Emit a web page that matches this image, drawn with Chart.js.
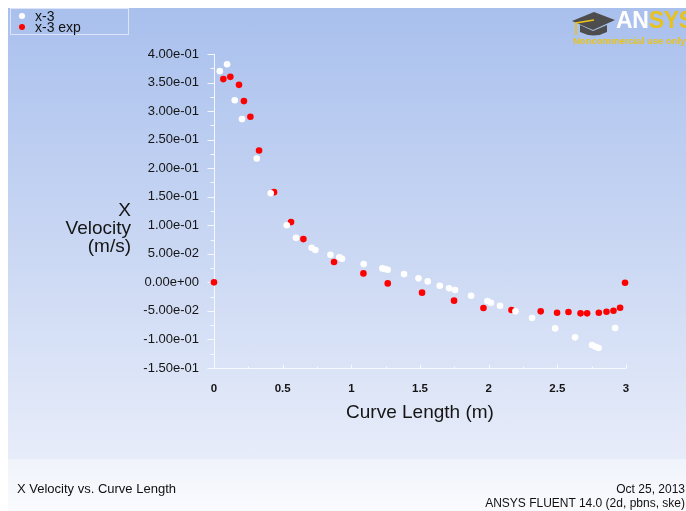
<!DOCTYPE html>
<html>
<head>
<meta charset="utf-8">
<script src="https://cdn.jsdelivr.net/npm/chart.js@4/dist/chart.umd.min.js"></script>
<style>
  html, body { margin: 0; padding: 0; background: #ffffff; }
  #wrap { position: relative; width: 686px; height: 511px; overflow: hidden; background: #ffffff; font-family: "Liberation Sans", Arial, sans-serif; }
  #panel { position: absolute; left: 8px; top: 8px; width: 678px; height: 451px;
           background: linear-gradient(to bottom, rgb(169,192,237) 0%, rgb(231,236,249) 100%); }
  #foot { position: absolute; left: 8px; top: 459px; width: 678px; height: 52px;
          background: linear-gradient(to bottom, rgb(240,243,251) 0%, rgb(250,251,254) 100%); }
  #c { position: absolute; left: 0; top: 0; }
  #legend { position: absolute; left: 10px; top: 8px; width: 117px; height: 25px; border: 1px solid rgba(225,232,250,0.9);
            font-size: 14px; color: #111; }
  .li { position: absolute; left: 0; height: 12px; line-height: 12px; }
  .dot { position: absolute; left: 8px; top: 3px; width: 6px; height: 6px; border-radius: 50%; }
  .lt { position: absolute; left: 24px; top: 0; white-space: nowrap; }
  #logo { position: absolute; left: 570px; top: 9px; width: 130px; height: 40px; }
  #ansys { position: absolute; left: 46px; top: -3px; font-size: 23px; font-weight: bold; letter-spacing: -0.3px; white-space: nowrap; line-height: 28px; }
  #nc { position: absolute; left: 3px; top: 27px; font-family: "Liberation Sans", Arial, sans-serif; font-size: 9.5px; line-height: 10px; font-weight: bold; color: #e8c21c; white-space: nowrap; }
  .ft { position: absolute; font-size: 12px; color: #111; white-space: nowrap; line-height: 14px; }
</style>
</head>
<body>
<div id="wrap">
  <div id="panel"></div>
  <div id="foot"></div>
  <canvas id="c" width="686" height="511"></canvas>
  <div id="legend">
    <div class="li" style="top:1px"><span class="dot" style="background:#ffffff"></span><span class="lt">x-3</span></div>
    <div class="li" style="top:12px"><span class="dot" style="background:#ff0000"></span><span class="lt">x-3 exp</span></div>
  </div>
  <div id="logo">
    <svg width="46" height="30" style="position:absolute;left:0;top:2px">
      <polygon points="2,10 24,1 45,9 23,19" fill="#4d4d4d"/>
      <path d="M10,14 L10,21 Q24,28 37,21 L37,14 L23,20 Z" fill="#4d4d4d"/>
      <path d="M24,9 L6,12 L6,24" stroke="#e8c21c" stroke-width="1.6" fill="none"/>
    </svg>
    <div id="ansys"><span style="color:#ffffff">AN</span><span style="color:#e8c21c">SYS</span></div>
    <div id="nc">Noncommercial use only</div>
  </div>
  <div class="ft" style="left:17px; top:482px; font-size:13px;">X Velocity vs. Curve Length</div>
  <div class="ft" style="right:1px; top:482px;">Oct 25, 2013</div>
  <div class="ft" style="right:1px; top:496px;">ANSYS FLUENT 14.0 (2d, pbns, ske)</div>
</div>
<script>
// ---- data ----
const seriesNames = ['x-3', 'x-3 exp'];
const simX = [0.042,0.095,0.151,0.204,0.311,0.413,0.530,0.597,0.711,0.738,0.848,0.913,0.932,1.090,1.226,1.245,1.265,1.384,1.489,1.556,1.644,1.712,1.755,1.872,1.991,2.017,2.083,2.195,2.316,2.484,2.629,2.753,2.778,2.800,2.921];
const simY = [0.370,0.382,0.319,0.286,0.217,0.156,0.100,0.078,0.0606,0.0566,0.0484,0.0438,0.0413,0.032,0.0245,0.0233,0.022,0.0145,0.007,0.0017,-0.006,-0.0105,-0.0135,-0.0235,-0.0328,-0.0357,-0.041,-0.0508,-0.0625,-0.0806,-0.0963,-0.1098,-0.1128,-0.115,-0.080];
const expX = [0.0,0.068,0.119,0.182,0.218,0.265,0.328,0.437,0.561,0.651,0.874,1.088,1.265,1.515,1.748,1.962,2.166,2.379,2.498,2.581,2.669,2.717,2.802,2.858,2.909,2.957,2.993];
const expY = [0.0,0.356,0.360,0.346,0.3175,0.290,0.231,0.158,0.1056,0.0758,0.0356,0.0157,-0.0018,-0.018,-0.032,-0.045,-0.0485,-0.0508,-0.0532,-0.052,-0.0543,-0.0543,-0.0532,-0.0515,-0.0497,-0.0445,-0.0007];
const xTickValues = [0, 0.5, 1, 1.5, 2, 2.5, 3];
const xTickLabels = ['0', '0.5', '1', '1.5', '2', '2.5', '3'];
const yTickValues = [0.4, 0.35, 0.3, 0.25, 0.2, 0.15, 0.1, 0.05, 0, -0.05, -0.1, -0.15];
const yTickLabels = ['4.00e-01','3.50e-01','3.00e-01','2.50e-01','2.00e-01','1.50e-01','1.00e-01','5.00e-02','0.00e+00','-5.00e-02','-1.00e-01','-1.50e-01'];
const xTitle = 'Curve Length (m)';
const yTitleLines = ['X', 'Velocity', '(m/s)'];

const toPts = (xs, ys) => xs.map((x, i) => ({ x: x, y: ys[i] }));
const FONT = '"Liberation Sans", Arial, sans-serif';
const txt = '#151515';
const axisCol = 'rgba(248,250,255,0.95)';

function labelFor(values, labels, v) {
  for (let i = 0; i < values.length; i++) if (Math.abs(values[i] - v) < 1e-9) return labels[i];
  return '';
}

const axesPlugin = {
  id: 'fluentAxes',
  beforeDatasetsDraw(chart) {
    const ctx = chart.ctx, xs = chart.scales.x, ys = chart.scales.y, a = chart.chartArea;
    ctx.save();
    ctx.strokeStyle = axisCol;
    ctx.lineWidth = 1;
    ctx.beginPath();
    const ax = Math.round(a.left) + 0.5, ay = Math.round(a.bottom) + 0.5;
    ctx.moveTo(ax, a.top); ctx.lineTo(ax, a.bottom);
    ctx.moveTo(a.left, ay); ctx.lineTo(a.right, ay);
    for (let i = 0; i < yTickValues.length; i++) {
      const py = Math.round(ys.getPixelForValue(yTickValues[i])) + 0.5;
      ctx.moveTo(ax - 7, py); ctx.lineTo(ax, py);
      if (i < yTickValues.length - 1) {
        const my = Math.round(ys.getPixelForValue((yTickValues[i] + yTickValues[i + 1]) / 2)) + 0.5;
        ctx.moveTo(ax - 4, my); ctx.lineTo(ax, my);
      }
    }
    for (let i = 0; i < xTickValues.length; i++) {
      const px = Math.round(xs.getPixelForValue(xTickValues[i])) + 0.5;
      ctx.moveTo(px, ay - 4); ctx.lineTo(px, ay);
      if (i < xTickValues.length - 1) {
        const mx = Math.round(xs.getPixelForValue((xTickValues[i] + xTickValues[i + 1]) / 2)) + 0.5;
        ctx.moveTo(mx, ay - 2); ctx.lineTo(mx, ay);
      }
    }
    ctx.stroke();
    ctx.fillStyle = txt;
    ctx.font = '19px ' + FONT;
    ctx.textAlign = 'center';
    ctx.textBaseline = 'middle';
    ctx.fillText(xTitle, (a.left + a.right) / 2, a.bottom + 45);
    ctx.textAlign = 'right';
    const yc = 229;
    yTitleLines.forEach((s, i) => ctx.fillText(s, 131, yc + (i - 1) * 18));
    ctx.restore();
  }
};

new Chart(document.getElementById('c'), {
  type: 'scatter',
  data: {
    datasets: [
      { label: seriesNames[0], data: toPts(simX, simY), backgroundColor: '#ffffff', borderWidth: 0, pointRadius: 3.3, pointHoverRadius: 3.3, clip: false },
      { label: seriesNames[1], data: toPts(expX, expY), backgroundColor: '#ff0000', borderWidth: 0, pointRadius: 3.3, pointHoverRadius: 3.3, clip: false }
    ]
  },
  options: {
    responsive: false,
    devicePixelRatio: 1,
    animation: false,
    events: [],
    layout: { padding: { top: 54, right: 60, left: 0, bottom: 0 } },
    plugins: { legend: { display: false }, tooltip: { enabled: false } },
    scales: {
      x: {
        type: 'linear', min: 0, max: 3,
        afterFit(s) { s.height = 143; },
        afterBuildTicks(s) { s.ticks = xTickValues.map(v => ({ value: v })); },
        grid: { display: false, drawTicks: false }, border: { display: false },
        ticks: { color: txt, font: { family: FONT, size: 11.5, weight: 'bold' }, padding: 14, maxRotation: 0, autoSkip: false,
                 callback: v => labelFor(xTickValues, xTickLabels, v) }
      },
      y: {
        type: 'linear', min: -0.15, max: 0.4,
        afterFit(s) { s.width = 214; },
        afterBuildTicks(s) { s.ticks = yTickValues.map(v => ({ value: v })); },
        grid: { display: false, drawTicks: false }, border: { display: false },
        ticks: { color: txt, font: { family: FONT, size: 13 }, padding: 15, autoSkip: false,
                 callback: v => labelFor(yTickValues, yTickLabels, v) }
      }
    }
  },
  plugins: [axesPlugin]
});
</script>
</body>
</html>
